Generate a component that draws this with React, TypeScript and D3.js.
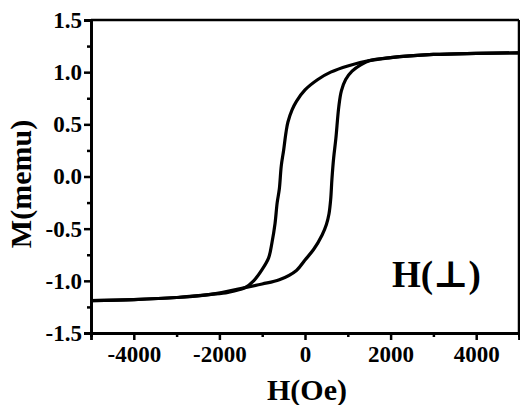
import {useEffect, useRef} from "react";
import * as d3 from "d3";

// descending branch (field swept from +5000 down to -5000), H in Oe, M in memu
const downH = [-5000, -4000, -3000, -2200, -1800, -1400, -1200, -1000, -850, -770, -700, -650, -600, -555, -500, -445, -400, -300, -200, 0, 300, 600, 1000, 1500, 2000, 3000, 4000, 5000];
const downM = [-1.19, -1.18, -1.16, -1.13, -1.11, -1.065, -1.0, -0.89, -0.78, -0.63, -0.45, -0.25, -0.12, 0.1, 0.25, 0.42, 0.52, 0.64, 0.72, 0.83, 0.93, 1.0, 1.06, 1.11, 1.14, 1.17, 1.18, 1.185];

// ascending branch (field swept from -5000 up to +5000)
const upH = [-5000, -4000, -3000, -2200, -1400, -1000, -600, -200, 0, 200, 400, 500, 560, 600, 630, 670, 720, 790, 850, 950, 1100, 1300, 1500, 2000, 3000, 4000, 5000];
const upM = [-1.19, -1.18, -1.16, -1.13, -1.065, -1.03, -0.99, -0.9, -0.8, -0.7, -0.56, -0.46, -0.36, -0.22, -0.02, 0.18, 0.36, 0.67, 0.82, 0.93, 1.01, 1.07, 1.11, 1.14, 1.17, 1.18, 1.185];

const xTicks = [-4000, -2000, 0, 2000, 4000];
const xMinor = [-5000, -3000, -1000, 1000, 3000, 5000];
const yTicks = [-1.5, -1.0, -0.5, 0.0, 0.5, 1.0, 1.5];
const yMinor = [-1.25, -0.75, -0.25, 0.25, 0.75, 1.25];

const FONT = "\"Liberation Serif\", \"Times New Roman\", \"DejaVu Serif\", serif";

const App = () => {
    const ref = useRef<SVGSVGElement>(null);

    useEffect(() => {
        const svg = d3.select(ref.current);
        svg.selectAll("*").remove();

        const x = d3.scaleLinear().domain([-5000, 5000]).range([91, 519]);
        const y = d3.scaleLinear().domain([-1.5, 1.5]).range([333, 20]);

        const line = d3.line<[number, number]>()
            .x(d => x(d[0]))
            .y(d => y(d[1]))
            .curve(d3.curveCatmullRom.alpha(0.5));

        const down: [number, number][] = downH.map((h, i) => [h, downM[i]]);
        const up: [number, number][] = upH.map((h, i) => [h, upM[i]]);

        [down, up].forEach(br => {
            svg.append("path")
                .datum(br)
                .attr("fill", "none")
                .attr("stroke", "#000")
                .attr("stroke-width", 3.2)
                .attr("stroke-linejoin", "round")
                .attr("d", line);
        });

        // frame top + right
        svg.append("line").attr("x1", 91).attr("x2", 519).attr("y1", 20).attr("y2", 20)
            .attr("stroke", "#000").attr("stroke-width", 2.5);
        svg.append("line").attr("x1", 519).attr("x2", 519).attr("y1", 20).attr("y2", 333)
            .attr("stroke", "#000").attr("stroke-width", 2.5);

        const styleAxis = (g: any) => {
            g.attr("font-family", null).attr("font-size", null);
            g.select(".domain").attr("stroke-width", 2.8);
            g.selectAll(".tick line").attr("stroke-width", 2.5);
            g.selectAll("text").attr("fill", "#000")
                .style("font-family", FONT).style("font-size", "23px").style("font-weight", "bold");
        };

        // x axis
        svg.append("g")
            .attr("transform", "translate(0,333)")
            .call(d3.axisBottom(x).tickValues(xMinor).tickSize(4).tickFormat(() => ""))
            .call(styleAxis);
        svg.append("g")
            .attr("transform", "translate(0,333)")
            .call(d3.axisBottom(x).tickValues(xTicks).tickSize(7).tickPadding(6).tickFormat(d => String(d)))
            .call(styleAxis);

        // y axis
        svg.append("g")
            .attr("transform", "translate(91,0)")
            .call(d3.axisLeft(y).tickValues(yMinor).tickSize(4).tickFormat(() => ""))
            .call(styleAxis);
        svg.append("g")
            .attr("transform", "translate(91,0)")
            .call(d3.axisLeft(y).tickValues(yTicks).tickSize(7).tickPadding(2).tickFormat(d => (+d).toFixed(1)))
            .call(styleAxis);

        // labels
        const label = (t: any, size: number) =>
            t.style("font-family", FONT).style("font-weight", "bold").style("font-size", size + "px");
        svg.append("text")
            .attr("x", 307).attr("y", 400)
            .attr("text-anchor", "middle")
            .call(label, 30)
            .text("H(Oe)");
        svg.append("text")
            .attr("transform", "translate(31,184) rotate(-90)")
            .attr("text-anchor", "middle")
            .call(label, 30)
            .text("M(memu)");
        svg.append("text")
            .attr("x", 392).attr("y", 287)
            .call(label, 37)
            .text("H(⊥)");
    }, []);

    return (
        <svg ref={ref} width={520} height={405}
             style={{position: "absolute", left: 0, top: 0, background: "#fff"}}/>
    );
};

export default App;
